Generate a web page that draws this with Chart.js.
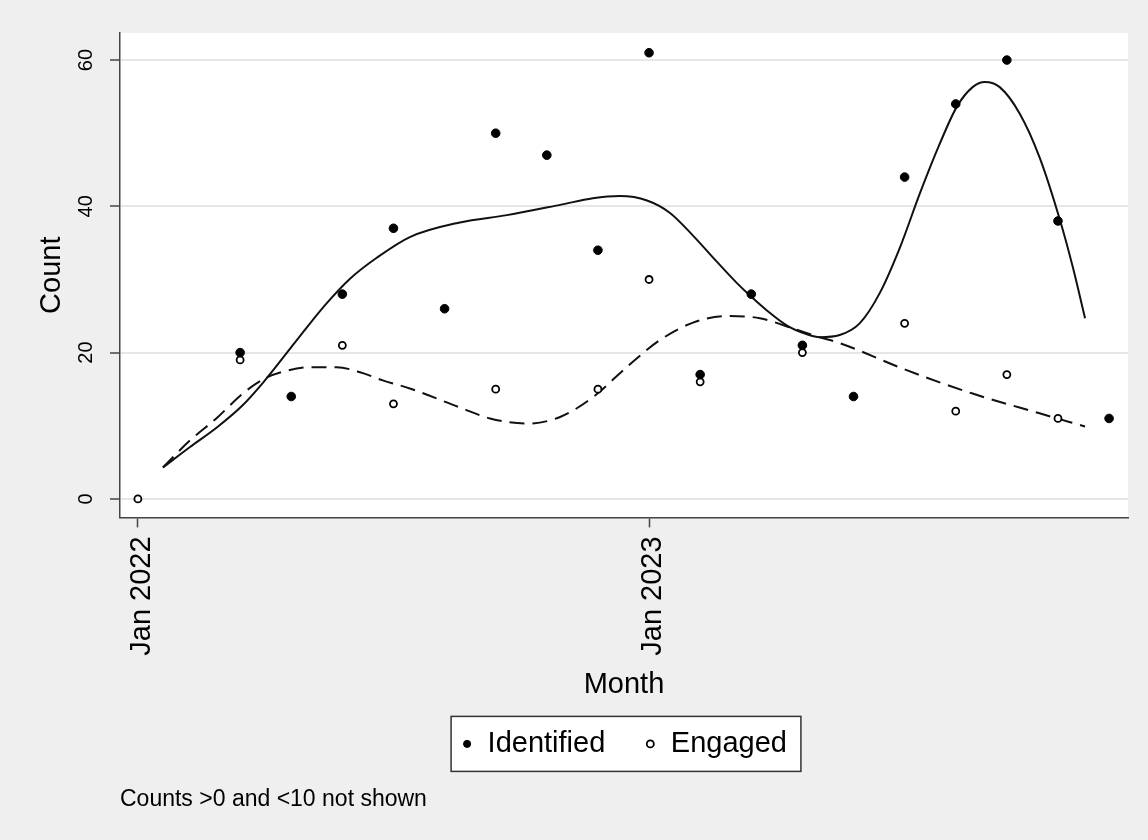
<!DOCTYPE html>
<html>
<head>
<meta charset="utf-8">
<title>Count by month</title>
<script src="https://cdn.jsdelivr.net/npm/chart.js@4.4.0/dist/chart.umd.min.js"></script>
<style>
  html, body { margin: 0; padding: 0; background: #efefef; }
  #wrap { width: 1148px; height: 840px; }
</style>
</head>
<body>
<div id="wrap"><canvas id="countChart" width="1148" height="840"></canvas></div>
<script>
// ---------- Data (x = period index, 0 = Jan 2022, 10 = Jan 2023) ----------
const tickValues = [0, 10];
const tickLabels = ["Jan 2022", "Jan 2023"];
const yTicks = [0, 20, 40, 60];

const identifiedX = [2, 3, 4, 5, 6, 7, 8, 9, 10, 11, 12, 13, 14, 15, 16, 17, 18, 19];
const identifiedY = [20, 14, 28, 37, 26, 50, 47, 34, 61, 17, 28, 21, 14, 44, 54, 60, 38, 11];

const engagedX = [0, 2, 4, 5, 7, 9, 10, 11, 13, 15, 16, 17, 18];
const engagedY = [0, 19, 21, 13, 15, 15, 30, 16, 20, 24, 12, 17, 11];

// smoothed curves
const identifiedFitX = [0.49, 1.02, 1.55, 2.05, 2.45, 2.84, 3.31, 3.70, 4.15, 4.68, 5.32, 6.30, 7.22, 8.26, 8.90,
  9.43, 9.96, 10.41, 10.86, 11.33, 11.72, 11.99, 12.30, 12.70, 13.09, 13.34, 13.73, 14.12, 14.51, 14.91,
  15.30, 15.69, 16.02, 16.33, 16.57, 16.86, 17.25, 17.64, 18.04, 18.29, 18.53];
const identifiedFitY = [4.3, 7.1, 9.8, 12.8, 15.9, 19.3, 23.5, 26.8, 30.1, 33.0, 35.8, 37.8, 38.8, 40.2, 41.1,
  41.4, 40.8, 39.1, 36.0, 32.4, 29.5, 27.7, 25.8, 23.7, 22.5, 22.1, 22.4, 24.0, 28.1, 34.4,
  41.8, 48.6, 53.6, 56.3, 57.0, 56.3, 52.7, 46.7, 38.1, 31.7, 24.7];

const engagedFitX = [0.49, 1.02, 1.55, 2.05, 2.52, 2.84, 3.36, 3.89, 4.40, 4.79, 5.32, 6.30, 6.89, 7.61, 8.26,
  8.90, 9.56, 10.21, 10.86, 11.52, 12.17, 12.81, 13.34, 13.73, 15.04, 16.33, 17.64, 18.53];
const engagedFitY = [4.3, 8.0, 11.1, 14.4, 16.6, 17.4, 18.0, 18.0, 17.2, 16.2, 15.1, 12.5, 11.0, 10.3, 11.2,
  13.9, 18.0, 21.7, 24.1, 25.0, 24.7, 23.3, 22.1, 21.3, 17.6, 14.4, 11.7, 9.9];

const pts = (xs, ys) => xs.map((x, i) => ({ x: x, y: ys[i] }));

const FONT = "'Liberation Sans', Arial, sans-serif";
const AXIS = "#444";

// ---------- Plugins ----------
// white plot region + framed legend box
const plotBackground = {
  id: "plotBackground",
  beforeDraw(chart) {
    const { ctx, chartArea: a } = chart;
    ctx.save();
    ctx.fillStyle = "#ffffff";
    ctx.fillRect(a.left, a.top, a.right - a.left, a.bottom - a.top);

    const hb = chart.legend && chart.legend.legendHitBoxes;
    if (hb && hb.length) {
      const first = hb[0], last = hb[hb.length - 1];
      const l = first.left - 10, r = last.left + last.width + 14;
      const t = first.top - 13, b = first.top + first.height + 13;
      ctx.fillStyle = "#ffffff";
      ctx.fillRect(l, t, r - l, b - t);
      ctx.strokeStyle = "#333";
      ctx.lineWidth = 1.5;
      ctx.strokeRect(l, t, r - l, b - t);
    }
    ctx.restore();
  }
};

// ---------- Chart ----------
const ctx = document.getElementById("countChart");
const countChart = new Chart(ctx, {
  type: "scatter",
  data: {
    datasets: [
      {
        label: "Identified",
        data: pts(identifiedX, identifiedY),
        backgroundColor: "#000",
        borderColor: "#000",
        borderWidth: 1,
        pointRadius: 4.3,
        order: 0
      },
      {
        label: "Engaged",
        data: pts(engagedX, engagedY),
        backgroundColor: "#fff",
        borderColor: "#000",
        borderWidth: 1.8,
        pointRadius: 3.5,
        order: 1
      },
      {
        label: "Identified fit",
        data: pts(identifiedFitX, identifiedFitY),
        showLine: true,
        borderColor: "#111",
        borderWidth: 2,
        pointRadius: 0,
        cubicInterpolationMode: "monotone",
        order: 2
      },
      {
        label: "Engaged fit",
        data: pts(engagedFitX, engagedFitY),
        showLine: true,
        borderColor: "#111",
        borderWidth: 2,
        borderDash: [15, 8],
        pointRadius: 0,
        cubicInterpolationMode: "monotone",
        order: 3
      }
    ]
  },
  options: {
    responsive: false,
    animation: false,
    devicePixelRatio: 1,
    layout: { padding: { left: 0, right: 20, top: 33, bottom: 27 } },
    plugins: {
      legend: {
        position: "bottom",
        fullSize: false,
        labels: {
          filter: (item) => item.datasetIndex < 2,
          usePointStyle: true,
          boxWidth: 12,
          boxHeight: 5,
          padding: 39,
          color: "#000",
          font: { family: FONT, size: 29 }
        }
      },
      subtitle: {
        display: true,
        text: "Counts >0 and <10 not shown",
        position: "bottom",
        align: "start",
        fullSize: false,
        color: "#000",
        font: { family: FONT, size: 23, weight: "normal" },
        padding: { top: 17, bottom: 0 }
      },
      tooltip: { enabled: false }
    },
    scales: {
      x: {
        type: "linear",
        min: -0.35,
        max: 19.37,
        afterBuildTicks: (s) => { s.ticks = tickValues.map((v) => ({ value: v })); },
        afterFit: (s) => { s.height = 173; },
        ticks: {
          callback: (v, i) => tickLabels[i],
          minRotation: 90,
          maxRotation: 90,
          padding: 9,
          labelOffset: 4,
          color: "#000",
          font: { family: FONT, size: 29 }
        },
        grid: { drawOnChartArea: false, tickLength: 10, tickColor: AXIS, tickWidth: 1.5 },
        border: { color: AXIS, width: 1.5 },
        title: {
          display: true,
          text: "Month",
          color: "#000",
          font: { family: FONT, size: 29 },
          padding: { top: 0, bottom: -12 }
        }
      },
      y: {
        min: -2.53,
        max: 63.7,
        afterBuildTicks: (s) => { s.ticks = yTicks.map((v) => ({ value: v })); },
        afterFit: (s) => { s.width = 120; },
        ticks: {
          minRotation: 90,
          maxRotation: 90,
          crossAlign: "center",
          padding: 12,
          color: "#000",
          font: { family: FONT, size: 20 }
        },
        grid: { color: "#e6e6e6", lineWidth: 2, tickLength: 10, tickColor: AXIS, tickWidth: 1.5 },
        border: { color: AXIS, width: 1.5 },
        title: {
          display: true,
          text: "Count",
          color: "#000",
          font: { family: FONT, size: 29 },
          padding: { top: 35, bottom: 0 }
        }
      }
    }
  },
  plugins: [plotBackground]
});
</script>
</body>
</html>
